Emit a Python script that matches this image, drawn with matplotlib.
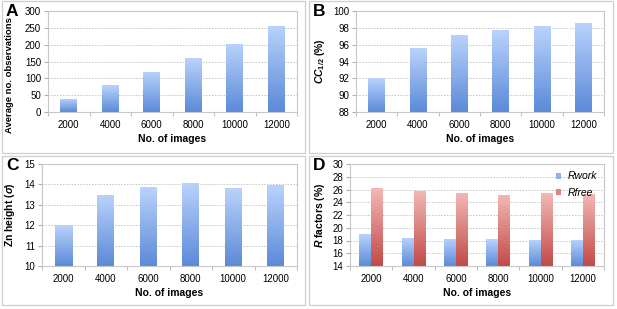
import matplotlib as mpl
mpl.use('Agg')
mpl.rcParams['font.family'] = ['Liberation Sans', 'DejaVu Sans']
mpl.rcParams['mathtext.fontset'] = 'custom'
mpl.rcParams['mathtext.it'] = 'Liberation Sans:italic:bold'
mpl.rcParams['mathtext.rm'] = 'Liberation Sans:bold'
mpl.rcParams['axes.linewidth'] = 0.8
import matplotlib.pyplot as plt
import numpy as np
from matplotlib.patches import Rectangle
from matplotlib.colors import LinearSegmentedColormap

# data
images = ['2000', '4000', '6000', '8000', '10000', '12000']
avg_obs = [40, 80, 120, 160, 202, 256]
cc_half = [92.0, 95.6, 97.2, 97.7, 98.2, 98.6]
zn_height = [12.0, 13.5, 13.85, 14.08, 13.8, 13.97]
r_work = [19.0, 18.4, 18.3, 18.2, 18.1, 18.1]
r_free = [26.3, 25.8, 25.5, 25.2, 25.4, 25.3]

W, H = 617, 309
fig = plt.figure(figsize=(W / 100, H / 100), dpi=100)
fig.patch.set_facecolor('white')

blue = LinearSegmentedColormap.from_list('blue', ['#5b8ad8', '#bad3fc'])
red = LinearSegmentedColormap.from_list('red', ['#c24a47', '#f3b9b7'])
grad = np.linspace(0, 1, 256).reshape(-1, 1)


def px_axes(l, r, t, b):
    return fig.add_axes([l / W, 1 - b / H, (r - l) / W, (b - t) / H])


def panel_box(l, r, t, b):
    fig.patches.append(Rectangle((l / W, 1 - b / H), (r - l) / W, (b - t) / H,
                                 transform=fig.transFigure, fill=False,
                                 edgecolor='#cfcfcf', linewidth=0.9))


def gradient_bars(ax, x, vals, width, cmap, ymin):
    bars = ax.bar(x, np.array(vals) - ymin, width, bottom=ymin,
                  facecolor='none', edgecolor='none')
    for b in bars:
        bx, by = b.get_x(), b.get_y()
        im = ax.imshow(grad, cmap=cmap, aspect='auto', origin='lower',
                       extent=[bx, bx + b.get_width(), by, by + b.get_height()],
                       zorder=2)
        im.set_clip_path(b)
    return bars


def style(ax, ylim, yticks):
    ax.set_xlim(-0.5, 5.5)
    ax.set_ylim(*ylim)
    ax.set_yticks(yticks)
    ax.set_xticks(range(6))
    ax.set_xticklabels(images)
    ax.set_xticks(np.arange(-0.5, 6, 1), minor=True)
    ax.tick_params(axis='x', which='major', length=0, labelsize=7, pad=6)
    ax.tick_params(axis='x', which='minor', length=3, color='#b0b0b0')
    ax.tick_params(axis='y', length=3, color='#b0b0b0', labelsize=7, pad=2)
    for s in ax.spines.values():
        s.set_color('#c8c8c8')
    ax.yaxis.grid(True, linestyle=(0, (1.5, 1.5)), color='#c4c4c4', linewidth=0.7)
    ax.set_axisbelow(True)
    ax.set_xlabel('No. of images', fontsize=7.5, fontweight='bold', labelpad=3)


panel_box(2, 305, 1, 153)
panel_box(309, 613, 1, 153)
panel_box(2, 305, 156, 305)
panel_box(309, 613, 156, 305)

x = np.arange(6)

axA = px_axes(48, 297, 11, 112)
gradient_bars(axA, x, avg_obs, 0.4, blue, 0)
style(axA, (0, 300), range(0, 301, 50))
axA.set_ylabel('Average no. observations', fontsize=6.8, fontweight='bold')
axA.yaxis.set_label_coords(-0.135, 0.37)
fig.text(6 / W, 1 - 11 / H, 'A', fontsize=12.5, fontweight='bold', va='center')

axB = px_axes(356, 604, 11, 112)
gradient_bars(axB, x, cc_half, 0.4, blue, 88)
style(axB, (88, 100), range(88, 101, 2))
axB.set_ylabel(r'$CC_{1/2}$ (%)', fontsize=7.5, fontweight='bold', labelpad=4)
fig.text(313 / W, 1 - 11 / H, 'B', fontsize=12.5, fontweight='bold', va='center')

axC = px_axes(42, 297, 164, 266)
gradient_bars(axC, x, zn_height, 0.4, blue, 10)
style(axC, (10, 15), range(10, 16))
axC.set_ylabel(r'Zn height ($\sigma$)', fontsize=7.5, fontweight='bold', labelpad=5)
fig.text(6 / W, 1 - 165 / H, 'C', fontsize=12.5, fontweight='bold', va='center')

axD = px_axes(350, 604, 164, 266)
w = 0.28
gradient_bars(axD, x - w / 2, r_work, w, blue, 14)
gradient_bars(axD, x + w / 2, r_free, w, red, 14)
style(axD, (14, 30), range(14, 31, 2))
axD.set_ylabel(r'$R$ factors (%)', fontsize=7.5, fontweight='bold', labelpad=4)
fig.text(313 / W, 1 - 165 / H, 'D', fontsize=12.5, fontweight='bold', va='center')
hw = Rectangle((0, 0), 1, 1, facecolor='#8fb1ea')
hf = Rectangle((0, 0), 1, 1, facecolor='#dc8583')
leg = axD.legend([hw, hf], ['Rwork', 'Rfree'], loc='upper right', frameon=False,
                 fontsize=7.5, handlelength=0.5, handleheight=0.5, handletextpad=0.6,
                 labelspacing=0.6, borderaxespad=0.3)
for t in leg.get_texts():
    t.set_fontstyle('italic')

fig.savefig('out.png', dpi=100)
